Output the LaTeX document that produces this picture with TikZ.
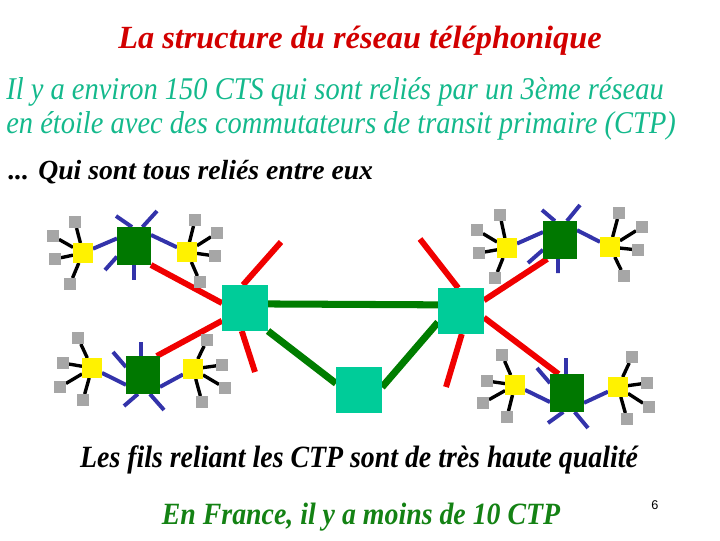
\documentclass[tikz,border=0pt]{standalone}
\usepackage{fontspec}
\setmainfont{Liberation Serif}
\newfontfamily\narrowserif[FakeStretch=0.9]{Liberation Serif}
\newfontfamily\pagefont{Liberation Sans}
\usetikzlibrary{backgrounds}

\definecolor{ctpteal}{RGB}{0,204,153}
\definecolor{ctsgreen}{RGB}{0,120,0}
\definecolor{linkgreen}{RGB}{0,125,0}
\definecolor{wireblue}{RGB}{51,51,170}
\definecolor{wirered}{RGB}{240,0,0}
\definecolor{phonegray}{RGB}{166,166,166}
\definecolor{titlered}{RGB}{210,0,0}
\definecolor{introteal}{RGB}{20,185,140}
\definecolor{countgreen}{RGB}{20,130,20}

\begin{document}
\begin{tikzpicture}[x=0.025cm, y=-0.025cm,
    ctp/.style={fill=ctpteal, minimum size=1.15cm, inner sep=0, outer sep=0},
    cts/.style={fill=ctsgreen, minimum width=0.85cm, minimum height=0.95cm, inner sep=0, outer sep=0},
    local/.style={fill=yellow, minimum size=0.5cm, inner sep=0, outer sep=0},
    phone/.style={fill=phonegray, minimum size=0.3cm, inner sep=0, outer sep=0},
    redwire/.style={wirered, line width=4.2pt},
    greenwire/.style={linkgreen, line width=5pt},
    bluewire/.style={wireblue, line width=2.8pt},
    blackwire/.style={black, line width=2.4pt},
    txt/.style={anchor=base west, inner sep=0},
    ctxt/.style={anchor=base, inner sep=0}]

    \useasboundingbox (0,0) rectangle (720,540);

    % Textes
    \node[ctxt, text=titlered, font=\fontsize{23}{26}\selectfont\bfseries\itshape] (title) at (360,48) {La structure du réseau téléphonique};
    \node[txt, text=introteal, font=\narrowserif\fontsize{22.5}{26}\selectfont\itshape] (introA) at (6,99) {Il y a environ 150 CTS qui sont reliés par un 3ème réseau};
    \node[txt, text=introteal, font=\narrowserif\fontsize{22.5}{26}\selectfont\itshape] (introB) at (6,133) {en étoile avec des commutateurs de transit primaire (CTP)};
    \node[txt, font=\fontsize{19.7}{24}\selectfont\bfseries\itshape] (note) at (8,179) {... Qui sont tous reliés entre eux};
    \node[ctxt, font=\narrowserif\fontsize{22}{26}\selectfont\bfseries\itshape] (quality) at (359,467) {Les fils reliant les CTP sont de très haute qualité};
    \node[ctxt, text=countgreen, font=\narrowserif\fontsize{22}{26}\selectfont\bfseries\itshape] (count) at (361,524) {En France, il y a moins de 10 CTP};
    \node[ctxt, font=\pagefont\fontsize{9}{10}\selectfont] (pagenum) at (655,509) {6};

    % Commutateurs de transit primaire (CTP)
    \node[ctp] (ctpA) at (245,308) {};
    \node[ctp] (ctpB) at (461,311) {};
    \node[ctp] (ctpC) at (359,390) {};

    % Centres de transit secondaire (CTS)
    \node[cts] (ctsA) at (134,246) {};
    \node[cts] (ctsB) at (143,375) {};
    \node[cts] (ctsC) at (560,240) {};
    \node[cts] (ctsD) at (567,393) {};

    % Centres locaux
    \node[local] (locA) at (83,253) {};
    \node[local] (locB) at (187,252) {};
    \node[local] (locC) at (92,368) {};
    \node[local] (locD) at (193,369) {};
    \node[local] (locE) at (507,248) {};
    \node[local] (locF) at (610,247) {};
    \node[local] (locG) at (515,385) {};
    \node[local] (locH) at (618,387) {};

    % Abonnes
    \foreach \l/\k/\x/\y in {A/1/75/222, A/2/53/236, A/3/55/259, A/4/70/284,
                             B/1/195/220, B/2/217/233, B/3/215/256, B/4/200/282,
                             C/1/78/338, C/2/63/363, C/3/60/387, C/4/83/400,
                             D/1/207/340, D/2/222/365, D/3/225/388, D/4/202/402,
                             E/1/500/215, E/2/477/230, E/3/479/253, E/4/495/278,
                             F/1/619/213, F/2/642/227, F/3/638/250, F/4/624/276,
                             G/1/502/355, G/2/487/381, G/3/483/403, G/4/507/417,
                             H/1/632/357, H/2/647/383, H/3/649/407, H/4/627/419}
        \node[phone] (phone\l\k) at (\x,\y) {};

    \begin{pgfonlayer}{background}
        % Lignes d'abonnes
        \foreach \l in {A,B,C,D,E,F,G,H}
            \foreach \k in {1,...,4}
                \draw[blackwire] (loc\l) -- (phone\l\k);

        % CTS -- centres locaux
        \draw[bluewire] (ctsA.156) -- (locA);
        \draw[bluewire] (ctsA.33) -- (locB);
        \draw[bluewire] (ctsB.210) -- (locC);
        \draw[bluewire] (ctsB.325) -- (locD);
        \draw[bluewire] (ctsC.155) -- (locE);
        \draw[bluewire] (ctsC.30) -- (locF);
        \draw[bluewire] (ctsD.208) -- (locG);
        \draw[bluewire] (ctsD.330) -- (locH);

        % autres departs des CTS
        \foreach \c/\k/\a/\x/\y in {ctsA/1/96/116/216, ctsA/2/66/157/211, ctsA/3/212/105/270, ctsA/4/270/134/280,
                                    ctsB/1/96/141/342, ctsB/2/155/113/352, ctsB/3/255/124/406, ctsB/4/290/164/410,
                                    ctsC/1/105/542/210, ctsC/2/70/580/205, ctsC/3/210/528/263, ctsC/4/264/558/273,
                                    ctsD/1/93/566/358, ctsD/2/150/537/368, ctsD/3/259/548/423, ctsD/4/292/588/428} {
            \coordinate (\c-end\k) at (\x,\y);
            \draw[bluewire] (\c.\a) -- (\c-end\k);
        }

        % CTS -- CTP
        \draw[redwire] (ctsA.south east) -- (ctpA.168);
        \draw[redwire] (ctsB.54) -- (ctpA.209);
        \draw[redwire] (ctsC.236) -- (ctpB.25);
        \draw[redwire] (ctsD.114) -- (ctpB.344);

        % autres departs des CTP
        \foreach \c/\k/\a/\x/\y in {ctpA/1/95/281/242, ctpA/2/262/255/372,
                                    ctpB/1/97/420/239, ctpB/2/272/446/387} {
            \coordinate (\c-end\k) at (\x,\y);
            \draw[redwire] (\c.\a) -- (\c-end\k);
        }

        % CTP entre eux
        \draw[greenwire] (ctpA.10) -- (ctpB.165);
        \draw[greenwire] (ctpA.south east) -- (ctpC.164);
        \draw[greenwire] (ctpB.206) -- (ctpC.7);
    \end{pgfonlayer}

\end{tikzpicture}
\end{document}
